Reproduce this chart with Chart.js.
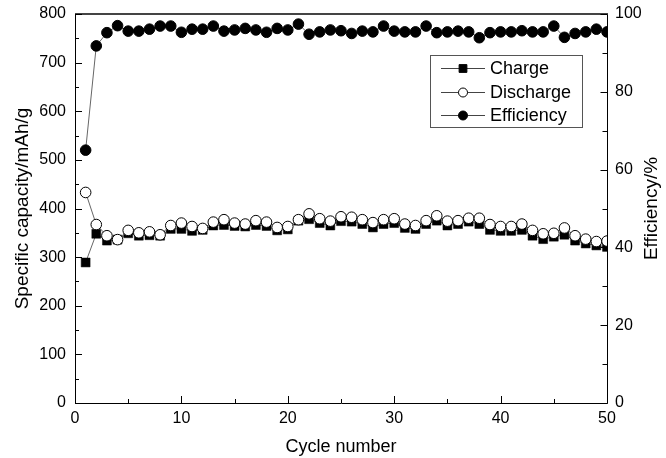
<!DOCTYPE html>
<html>
<head>
<meta charset="utf-8">
<script src="https://cdn.jsdelivr.net/npm/chart.js@4.4.1/dist/chart.umd.min.js"></script>
<style>
  html, body { margin: 0; padding: 0; background: #fff; }
  #wrap { width: 666px; height: 458px; }
</style>
</head>
<body>
<div id="wrap"><canvas id="chart" width="666" height="458"></canvas></div>
<script>
// data
const cycles = [1, 2, 3, 4, 5, 6, 7, 8, 9, 10, 11, 12, 13, 14, 15, 16, 17, 18, 19, 20,
  21, 22, 23, 24, 25, 26, 27, 28, 29, 30, 31, 32, 33, 34, 35, 36, 37, 38, 39, 40,
  41, 42, 43, 44, 45, 46, 47, 48, 49, 50];
const charge = [289, 348, 334, 336, 349, 344, 345, 344, 358, 358, 354, 356, 365, 366, 364, 363, 366, 364, 355, 357,
  375, 378, 370, 365, 374, 373, 368, 361, 368, 370, 360, 358, 368, 375, 365, 368, 373, 368, 356, 354,
  354, 356, 344, 337, 342, 346, 334, 328, 324, 321];
const discharge = [433, 367, 344, 336, 355, 350, 352, 346, 365, 370, 363, 359, 372, 377, 370, 368, 375, 372, 361, 363,
  377, 389, 379, 374, 383, 382, 377, 371, 377, 379, 368, 365, 375, 385, 374, 375, 380, 380, 367, 363,
  363, 368, 355, 348, 349, 360, 344, 337, 332, 333];
const efficiency = [65.0, 91.8, 95.2, 97.0, 95.6, 95.6, 96.1, 96.9, 96.9, 95.3, 96.1, 96.1, 96.9, 95.6, 95.9, 96.3, 95.9, 95.3, 96.3, 95.9,
  97.4, 94.8, 95.4, 95.9, 95.7, 95.0, 95.6, 95.4, 96.9, 95.6, 95.4, 95.4, 96.9, 95.2, 95.4, 95.6, 95.4, 93.9, 95.2, 95.4,
  95.4, 95.7, 95.4, 95.4, 96.9, 94.0, 95.0, 95.4, 96.1, 95.4];
const xTicks = [0, 10, 20, 30, 40, 50];
const seriesNames = ['Charge', 'Discharge', 'Efficiency'];

const FONT = "'Liberation Sans', Arial, sans-serif";

function pts(ys) {
  return cycles.map((c, i) => ({ x: c, y: ys[i] }));
}

// frame, inward ticks, right title, legend
const framePlugin = {
  id: 'frame',
  afterDraw(chart) {
    const ctx = chart.ctx;
    const a = chart.chartArea;
    const x = chart.scales.x, y = chart.scales.y, y2 = chart.scales.y2;
    ctx.save();
    ctx.strokeStyle = '#000';
    ctx.lineWidth = 1;
    ctx.beginPath();
    ctx.moveTo(a.left + 0.5, a.top);
    ctx.lineTo(a.left + 0.5, a.bottom + 0.5);
    ctx.lineTo(a.right + 0.5, a.bottom + 0.5);
    ctx.lineTo(a.right + 0.5, a.top);
    ctx.stroke();
    ctx.strokeStyle = '#444';
    ctx.lineWidth = 2;
    ctx.beginPath();
    ctx.moveTo(a.left, a.top);
    ctx.lineTo(a.right + 1, a.top);
    ctx.stroke();

    ctx.strokeStyle = '#000';
    ctx.lineWidth = 1;
    ctx.beginPath();
    for (let v = 0; v <= 50; v += 5) {
      const px = Math.round(x.getPixelForValue(v)) + 0.5;
      const len = v % 10 === 0 ? 7 : 4;
      ctx.moveTo(px, a.bottom);
      ctx.lineTo(px, a.bottom - len);
    }
    for (let v = 0; v <= 800; v += 50) {
      const py = Math.round(y.getPixelForValue(v)) + 0.5;
      const len = v % 100 === 0 ? 7 : 4;
      ctx.moveTo(a.left, py);
      ctx.lineTo(a.left + len, py);
    }
    for (let v = 0; v <= 100; v += 10) {
      const py = Math.round(y2.getPixelForValue(v)) + 0.5;
      const len = v % 20 === 0 ? 7 : 5;
      ctx.moveTo(a.right + 0.5, py);
      ctx.lineTo(a.right + 0.5 - len, py);
    }
    ctx.stroke();

    // right axis title, reading upwards
    ctx.save();
    ctx.translate(652, (a.top + a.bottom) / 2);
    ctx.rotate(-Math.PI / 2);
    ctx.font = '19px ' + FONT;
    ctx.fillStyle = '#000';
    ctx.textAlign = 'center';
    ctx.textBaseline = 'middle';
    ctx.fillText('Efficiency/%', 0, 0);
    ctx.restore();

    // legend box
    const bx = 430.5, by = 55.5, bw = 152, bh = 72;
    ctx.fillStyle = '#fff';
    ctx.fillRect(bx, by, bw, bh);
    ctx.strokeStyle = '#555';
    ctx.strokeRect(bx, by, bw, bh);
    const rows = [68, 92, 115];
    const styles = [
      { style: 'rect', r: 5.5, fill: '#000' },
      { style: 'circle', r: 4.5, fill: '#fff' },
      { style: 'circle', r: 4.5, fill: '#000' }
    ];
    ctx.font = '18px ' + FONT;
    ctx.textBaseline = 'middle';
    rows.forEach((ry, i) => {
      ctx.strokeStyle = '#444';
      ctx.lineWidth = 1;
      ctx.beginPath();
      ctx.moveTo(441, ry + 0.5);
      ctx.lineTo(485, ry + 0.5);
      ctx.stroke();
      ctx.fillStyle = styles[i].fill;
      ctx.strokeStyle = '#000';
      Chart.helpers.drawPoint(ctx, { pointStyle: styles[i].style, radius: styles[i].r, borderWidth: 1 }, 463, ry + 0.5);
      ctx.fillStyle = '#000';
      ctx.fillText(seriesNames[i], 490, ry + 1);
    });
    ctx.restore();
  }
};

function fixY(w) {
  return function (s) {
    s.width = w;
    s.paddingTop = 0;
    s.paddingBottom = 0;
  };
}

new Chart(document.getElementById('chart'), {
  type: 'scatter',
  data: {
    datasets: [
      {
        label: seriesNames[0],
        data: pts(charge),
        yAxisID: 'y',
        showLine: true,
        borderColor: '#666',
        borderWidth: 1,
        pointStyle: 'rect',
        pointRadius: 6.3,
        pointBackgroundColor: '#000',
        pointBorderColor: '#000',
        pointBorderWidth: 0.5,
        order: 3
      },
      {
        label: seriesNames[1],
        data: pts(discharge),
        yAxisID: 'y',
        showLine: true,
        borderColor: '#666',
        borderWidth: 1,
        pointStyle: 'circle',
        pointRadius: 5.3,
        pointBackgroundColor: '#fff',
        pointBorderColor: '#000',
        pointBorderWidth: 1,
        order: 2
      },
      {
        label: seriesNames[2],
        data: pts(efficiency),
        yAxisID: 'y2',
        showLine: true,
        borderColor: '#666',
        borderWidth: 1,
        pointStyle: 'circle',
        pointRadius: 5.3,
        pointBackgroundColor: '#000',
        pointBorderColor: '#000',
        pointBorderWidth: 1,
        order: 1
      }
    ]
  },
  options: {
    responsive: false,
    animation: false,
    devicePixelRatio: 1,
    layout: { padding: { top: 14, left: 0, right: 0, bottom: 0 } },
    plugins: {
      legend: { display: false },
      tooltip: { enabled: false }
    },
    scales: {
      x: {
        type: 'linear',
        min: 0,
        max: 50,
        afterFit(s) { s.height = 55; s.paddingLeft = 0; s.paddingRight = 0; },
        afterBuildTicks(s) { s.ticks = xTicks.map(v => ({ value: v })); },
        grid: { display: false, drawTicks: false },
        border: { display: false },
        ticks: { color: '#000', font: { family: FONT, size: 16 }, padding: 6, maxRotation: 0 },
        title: { display: true, text: 'Cycle number', color: '#000', font: { family: FONT, size: 18 }, padding: { top: 0, bottom: 0 } }
      },
      y: {
        position: 'left',
        min: 0,
        max: 800,
        afterFit: fixY(75),
        grid: { display: false, drawTicks: false },
        border: { display: false },
        ticks: { stepSize: 100, color: '#000', font: { family: FONT, size: 16 }, padding: 9 },
        title: { display: true, text: 'Specific capacity/mAh/g', color: '#000', font: { family: FONT, size: 19 }, padding: { top: 11, bottom: 0 } }
      },
      y2: {
        position: 'right',
        min: 0,
        max: 100,
        afterFit: fixY(59),
        grid: { display: false, drawTicks: false },
        border: { display: false },
        ticks: { stepSize: 20, color: '#000', font: { family: FONT, size: 16 }, padding: 8 },
        title: { display: false }
      }
    }
  },
  plugins: [framePlugin]
});
</script>
</body>
</html>
